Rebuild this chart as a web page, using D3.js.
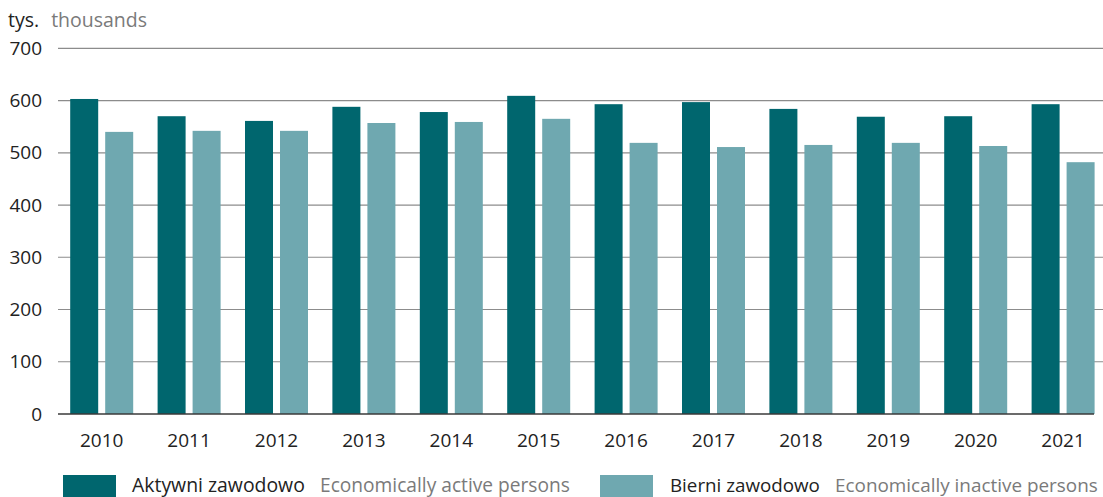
<!DOCTYPE html>
<html><head><meta charset="utf-8">
<script src="https://cdn.jsdelivr.net/npm/d3@7"></script>
<style>body{margin:0;background:#fff}svg{display:block}text{font-family:"Open Sans",sans-serif}</style>
</head><body><div id="c"></div>
<script>
const years = ["2010","2011","2012","2013","2014","2015","2016","2017","2018","2019","2020","2021"];
const active = [603,570,561,588,578,609,593,597,584,569,570,593];
const inactive = [540,542,542,557,559,565,519,511,515,519,513,482];
const yTicks = [0,100,200,300,400,500,600,700];
const seriesNames = [["Aktywni zawodowo","Economically active persons"],["Bierni zawodowo","Economically inactive persons"]];
const colors = ["#00666e","#6fa8b0"];

const W=1103,H=497;
const svg=d3.select("#c").append("svg").attr("width",W).attr("height",H);
const x=d3.scaleBand().domain(years).range([58,1106.8]).paddingInner(0).paddingOuter(0);
const y=d3.scaleLinear().domain([0,700]).range([414,48.3]);
const barW=28,gap=7;

// gridlines
svg.append("g").selectAll("line").data(yTicks.filter(d=>d>0)).join("line")
 .attr("x1",58).attr("x2",W).attr("y1",d=>y(d)).attr("y2",d=>y(d))
 .attr("stroke","#8c8c8c").attr("stroke-width",1.2);

// y labels
svg.append("g").selectAll("text").data(yTicks).join("text")
 .attr("x",42).attr("y",d=>y(d)).attr("dy","0.35em").attr("text-anchor","end")
 .attr("font-size",19).attr("fill","#222").text(d=>d);

// bars
const groups=[active,inactive];
groups.forEach((vals,si)=>{
  svg.append("g").selectAll("rect").data(years).join("rect")
   .attr("x",d=>x(d)+x.bandwidth()/2-(barW*2+gap)/2+si*(barW+gap))
   .attr("width",barW)
   .attr("y",(d,i)=>y(vals[i]))
   .attr("height",(d,i)=>y(0)-y(vals[i]))
   .attr("fill",colors[si]);
});

// baseline
svg.append("line").attr("x1",58).attr("x2",1094).attr("y1",y(0)).attr("y2",y(0))
 .attr("stroke","#3a3a3a").attr("stroke-width",1.5);

// x labels
svg.append("g").selectAll("text").data(years).join("text")
 .attr("x",d=>x(d)+x.bandwidth()/2).attr("y",447).attr("text-anchor","middle")
 .attr("font-size",19).attr("fill","#222").text(d=>d);

// unit label
const u=svg.append("text").attr("x",8).attr("y",27).attr("font-size",19.5);
u.append("tspan").attr("fill","#222").text("tys.");
u.append("tspan").attr("fill","#7a7a7a").attr("dx",12).text("thousands");

// legend
const legX=[63,600];
const legT=[[[132,305],[320,570]],[[670,820],[835,1098]]];
function fitText(txt,x0,x1,fill){
  const t=svg.append("text").attr("x",x0).attr("y",492).attr("font-size",20).attr("fill",fill).text(txt);
  const w=t.node().getComputedTextLength();
  const fs=Math.min(21,20*(x1-x0)/w);
  t.attr("font-size",fs);
}
seriesNames.forEach((nm,i)=>{
  svg.append("rect").attr("x",legX[i]).attr("y",475).attr("width",53).attr("height",24).attr("fill",colors[i]);
  fitText(nm[0],legT[i][0][0],legT[i][0][1],"#222");
  fitText(nm[1],legT[i][1][0],legT[i][1][1],"#7a7a7a");
});
</script></body></html>
